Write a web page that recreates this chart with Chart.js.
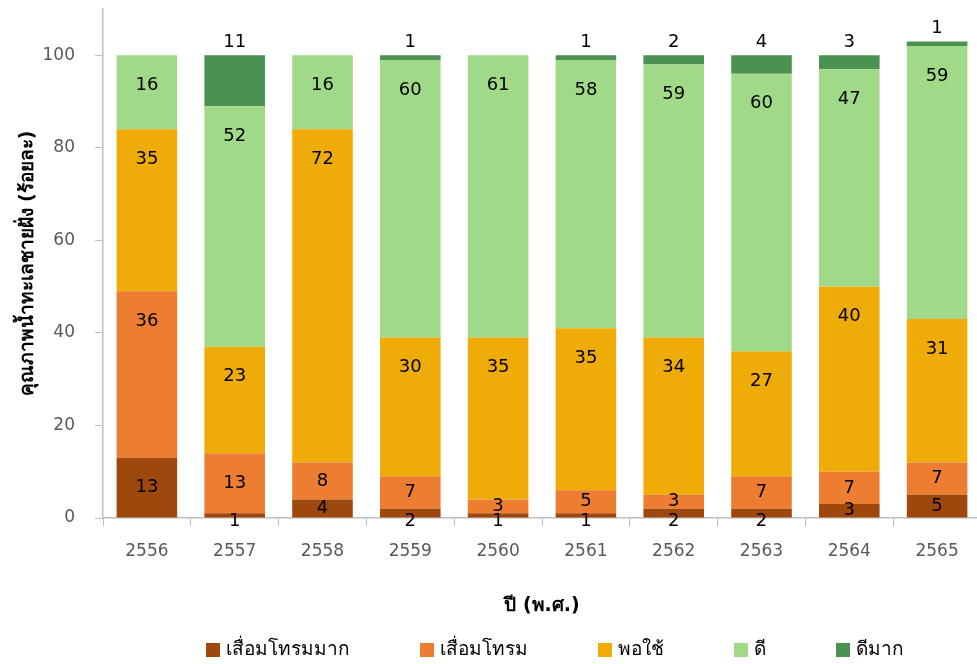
<!DOCTYPE html>
<html>
<head>
<meta charset="utf-8">
<script src="https://cdn.jsdelivr.net/npm/chart.js@4.4.1/dist/chart.umd.min.js"></script>
<style>
  html, body { margin: 0; padding: 0; background: #fff; overflow: hidden; }
  #wrap { position: absolute; left: 0; top: 0; }
</style>
</head>
<body>
<div id="wrap"><canvas id="grafica" width="985" height="664"></canvas></div>
<script>
// --- datos ---
const years = ['2556', '2557', '2558', '2559', '2560', '2561', '2562', '2563', '2564', '2565'];
const seriesNames = ['เสื่อมโทรมมาก', 'เสื่อมโทรม', 'พอใช้', 'ดี', 'ดีมาก'];
const veryPoor = [13, 1, 4, 2, 1, 1, 2, 2, 3, 5];
const poor = [36, 13, 8, 7, 3, 5, 3, 7, 7, 7];
const fair = [35, 23, 72, 30, 35, 35, 34, 27, 40, 31];
const good = [16, 52, 16, 60, 61, 58, 59, 60, 47, 59];
const excellent = [0, 11, 0, 1, 0, 1, 2, 4, 3, 1];
const yTicks = [0, 20, 40, 60, 80, 100];

const colores = ['#9E480E', '#ED7D31', '#EFAC09', '#A0DA88', '#4A9152'];
const FONT = "'DejaVu Sans', 'Noto Sans', sans-serif";
const axisGrey = '#bfbfbf';

// etiquetas de valores sobre las barras
const etiquetas = {
    id: 'etiquetas',
    afterDatasetsDraw(chart) {
        const ctx = chart.ctx;
        ctx.save();
        ctx.font = '18px ' + FONT;
        ctx.fillStyle = '#000';
        ctx.textAlign = 'center';
        ctx.textBaseline = 'middle';
        chart.data.datasets.forEach((ds, i) => {
            const meta = chart.getDatasetMeta(i);
            meta.data.forEach((bar, j) => {
                const v = ds.data[j];
                if (!v) return;
                const h = bar.base - bar.y;
                let ty;
                if (i === 4) ty = bar.y - 13;        // ดีมาก: encima de la barra
                else if (h >= 60) ty = bar.y + 30;   // dentro, cerca del borde superior
                else if (h < 12) ty = bar.base + 4;  // muy pequeño: bajo el eje
                else ty = (bar.y + bar.base) / 2;
                ctx.fillText(String(v), bar.x, ty);
            });
        });
        ctx.restore();
    }
};

// leyenda dibujada a mano (espaciado amplio como en el original)
const leyenda = {
    id: 'leyenda',
    afterDraw(chart) {
        const ctx = chart.ctx;
        const area = chart.chartArea;
        ctx.save();
        ctx.font = '19px ' + FONT;
        ctx.textBaseline = 'middle';
        const box = 14, gapText = 6, gapItem = 70;
        const items = chart.data.datasets.map(ds => ({
            label: ds.label, color: ds.backgroundColor,
            w: box + gapText + ctx.measureText(ds.label).width
        }));
        const total = items.reduce((s, it) => s + it.w, 0) + gapItem * (items.length - 1);
        let x = (area.left + area.right) / 2 + 13 - total / 2;
        const y = chart.height - 14;
        items.forEach(it => {
            ctx.fillStyle = it.color;
            ctx.fillRect(x, y - box / 2, box, box);
            ctx.fillStyle = '#000';
            ctx.fillText(it.label, x + box + gapText, y);
            x += it.w + gapItem;
        });
        ctx.restore();
    }
};

const seriesData = [veryPoor, poor, fair, good, excellent];

new Chart(document.getElementById('grafica'), {
    type: 'bar',
    data: {
        labels: years,
        datasets: seriesData.map((d, i) => ({
            label: seriesNames[i],
            data: d,
            backgroundColor: colores[i],
            categoryPercentage: 1,
            barPercentage: 0.69
        }))
    },
    options: {
        responsive: false,
        animation: false,
        devicePixelRatio: 1,
        layout: { padding: { top: 9, right: 4, left: 13, bottom: 38 } },
        plugins: {
            legend: { display: false },
            tooltip: { enabled: false }
        },
        scales: {
            x: {
                stacked: true,
                border: { color: axisGrey, width: 1.5 },
                grid: { display: true, drawOnChartArea: false, drawTicks: true, tickLength: 8, color: axisGrey, offset: true },
                ticks: { color: '#595959', font: { family: FONT, size: 17 }, padding: 15 },
                title: {
                    display: true, text: 'ปี (พ.ศ.)', color: '#000',
                    font: { family: FONT, size: 19, weight: 'bold' },
                    padding: { top: 4, bottom: 9 }
                },
                afterFit: s => { s.height = 108; s.paddingLeft = 0; s.paddingRight = 0; }
            },
            y: {
                stacked: true,
                min: 0,
                max: 110,
                border: { color: axisGrey, width: 1.5 },
                grid: { display: true, drawOnChartArea: false, drawTicks: true, tickLength: 8, color: axisGrey },
                afterBuildTicks: axis => { axis.ticks = yTicks.map(v => ({ value: v })); },
                ticks: { color: '#595959', font: { family: FONT, size: 17 }, padding: 20 },
                title: {
                    display: true, text: 'คุณภาพน้ำทะเลชายฝั่ง (ร้อยละ)', color: '#000',
                    font: { family: FONT, size: 19, weight: 'bold' },
                    padding: { top: 4, bottom: 4 }
                },
                afterFit: s => { s.width = 90; s.paddingTop = 0; s.paddingBottom = 0; }
            }
        }
    },
    plugins: [etiquetas, leyenda]
});
</script>
</body>
</html>
